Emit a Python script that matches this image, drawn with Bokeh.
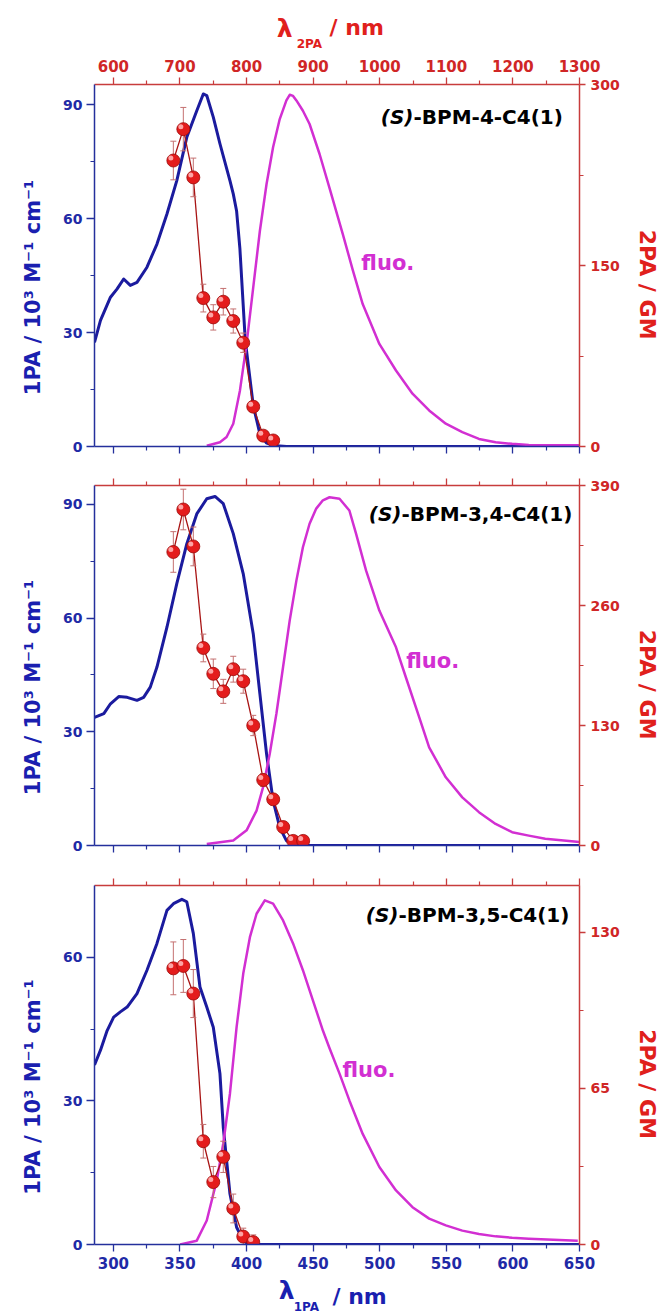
from bokeh.plotting import figure
from bokeh.models import Range1d, LinearAxis, FixedTicker, Label, CustomJSTickFormatter
from bokeh.layouts import column
from bokeh.embed import file_html
from bokeh.resources import INLINE

# ---------------- data ----------------
# bottom axis: lambda_1PA (nm); top axis: lambda_2PA (nm)
lam1_range = (285.8, 650.0)
lam2_range = (571.6, 1300.0)
bottom_ticks = [300, 350, 400, 450, 500, 550, 600, 650]
bottom_minor = [325, 375, 425, 475, 525, 575, 625]
top_ticks = [600, 700, 800, 900, 1000, 1100, 1200, 1300]
top_minor = [650, 750, 850, 950, 1050, 1150, 1250]

# Panel 1: (S)-BPM-4-C4(1)
p1_abs_wl = [285.8, 290.3, 297.8, 302.8, 307.7, 312.7, 317.7, 325.2, 332.7, 340.2, 347.6, 355.1,
             362.6, 367.5, 370.1, 375.0, 380.0, 387.5, 390.0, 392.5, 395.0, 397.0, 399.0, 405.0,
             410.0, 415.0, 422.4, 430.0, 650.0]
p1_abs = [27.4, 33.2, 39.3, 41.5, 44.1, 42.4, 43.2, 47.2, 53.3, 61.2, 70.0, 81.4,
          88.4, 92.8, 92.4, 86.7, 79.7, 70.0, 66.5, 62.0, 52.0, 40.0, 28.0, 10.8,
          3.3, 0.9, 0.2, 0.0, 0.0]
p1_fl_wl = [370.1, 380.0, 385.0, 390.0, 395.0, 400.0, 405.0, 410.0, 415.0, 419.9, 424.9, 429.9,
            432.4, 434.9, 437.4, 442.3, 447.3, 454.8, 462.3, 472.2, 479.7, 487.2, 499.7, 512.2,
            524.6, 537.1, 549.6, 562.0, 574.5, 587.0, 599.4, 611.9, 630.0, 650.0]
p1_fl = [0.2, 1.1, 2.5, 6.0, 14.7, 27.0, 41.9, 56.8, 69.1, 78.8, 86.2, 91.1,
         92.6, 92.3, 91.1, 88.4, 84.9, 77.0, 68.0, 56.0, 46.5, 37.5, 27.0, 20.0,
         13.9, 9.5, 6.0, 3.8, 2.0, 1.1, 0.7, 0.4, 0.3, 0.3]
p1_tpa_wl = [690, 705, 720, 735, 750, 765, 780, 795, 810, 825, 840]
p1_tpa_gm = [237, 263, 223, 123, 107, 120, 104, 86, 33, 9, 5]
p1_tpa_err = [16, 18, 16, 11.5, 10.5, 11, 10, 8, 4, 3, 2]

# Panel 2: (S)-BPM-3,4-C4(1)
p2_abs_wl = [285.8, 292.8, 297.8, 304.0, 310.3, 317.7, 322.7, 327.7, 332.7, 340.2, 347.6, 355.1,
             362.6, 370.1, 376.3, 382.5, 390.0, 397.5, 405.0, 410.0, 415.0, 419.9, 424.9, 429.9,
             434.9, 440.0, 650.0]
p2_abs = [33.8, 34.8, 37.4, 39.3, 39.1, 38.3, 39.1, 41.8, 47.1, 57.6, 69.1, 79.6,
          87.5, 91.5, 92.1, 90.2, 82.3, 71.7, 55.9, 40.0, 24.2, 11.9, 4.8, 1.3,
          0.3, 0.0, 0.0]
p2_fl_wl = [370.1, 390.0, 400.0, 407.5, 412.4, 417.4, 422.4, 427.4, 432.4, 437.4, 442.3, 447.3,
            452.3, 457.3, 462.3, 469.8, 477.2, 482.2, 489.7, 499.7, 512.2, 519.6, 529.6, 537.1,
            549.6, 562.0, 574.5, 587.0, 599.4, 611.9, 624.3, 650.0]
p2_fl = [0.4, 1.3, 4.0, 9.2, 15.4, 24.2, 34.8, 47.1, 59.4, 69.9, 78.7, 84.9,
         88.9, 91.1, 91.9, 91.5, 88.4, 82.3, 72.6, 62.0, 52.3, 44.4, 33.9, 25.9,
         18.0, 12.7, 8.8, 5.7, 3.5, 2.6, 1.8, 0.9]
p2_tpa_wl = [690, 705, 720, 735, 750, 765, 780, 795, 810, 825, 840, 855, 870, 885]
p2_tpa_gm = [318, 364, 324, 214, 186, 167, 191, 178, 130, 71, 50, 20, 5, 5]
p2_tpa_err = [22, 22, 21, 15, 16, 13, 14, 13, 11, 7, 5, 3, 2, 2]

# Panel 3: (S)-BPM-3,5-C4(1)
p3_abs_wl = [285.8, 290.3, 295.3, 300.2, 305.2, 310.3, 317.7, 325.2, 332.7, 340.2, 345.1, 351.4,
             355.1, 360.0, 365.0, 370.1, 375.0, 380.0, 382.5, 387.5, 392.5, 397.5, 402.0, 650.0]
p3_abs = [37.5, 40.6, 44.7, 47.5, 48.6, 49.6, 52.4, 57.3, 62.9, 69.8, 71.2, 72.1,
          71.6, 65.0, 53.8, 49.6, 45.4, 35.7, 24.5, 10.6, 3.6, 0.8, 0.0, 0.0]
p3_fl_wl = [350.1, 362.6, 370.1, 377.6, 382.5, 387.5, 392.5, 397.5, 402.5, 407.5, 413.7, 419.9,
            427.4, 434.9, 442.3, 449.8, 457.3, 462.3, 469.8, 477.2, 487.2, 499.7, 512.2, 524.6,
            537.1, 549.6, 562.0, 574.5, 587.0, 599.4, 611.9, 648.7]
p3_fl = [0.0, 0.8, 5.0, 13.4, 21.1, 31.5, 45.4, 56.6, 64.2, 69.1, 71.9, 71.2,
         67.7, 62.9, 57.3, 51.0, 44.7, 41.0, 35.7, 30.1, 23.1, 16.2, 11.3, 7.8,
         5.4, 4.0, 2.9, 2.2, 1.7, 1.4, 1.2, 0.8]
p3_tpa_wl = [690, 705, 720, 735, 750, 765, 780, 795, 810]
p3_tpa_gm = [115, 116, 104.5, 43, 26, 36.5, 15, 3.3, 1]
p3_tpa_err = [11, 11, 10, 7, 6.5, 6.5, 6, 3.5, 3]

# ---------------- style ----------------
FONT = "DejaVu Sans"
BLUE_LINE = "#1b1b9e"
BLUE_AXIS = "#24309c"
BLUE_TEXT = "#1f2aa6"
BLUE_TITLE = "#1a1fb0"
MAGENTA = "#d22fd2"
RED_AXIS = "#c83c3c"
RED_TEXT = "#d02626"
RED_TITLE = "#e0201c"
FIG_W = 662
BORDER_L, BORDER_R = 94, 81
FRAME_W = FIG_W - BORDER_L - BORDER_R
NB = "\u00a0"


def style_axis(ax, color, text_color, size, ticks, minor, show_labels):
    ax.ticker = FixedTicker(ticks=ticks, minor_ticks=minor)
    ax.axis_line_color = color
    ax.axis_line_width = 1.5
    ax.major_tick_line_color = color
    ax.minor_tick_line_color = color
    ax.major_tick_line_width = 1.3
    ax.minor_tick_line_width = 1.2
    ax.major_tick_in = 0
    ax.minor_tick_in = 0
    ax.major_tick_out = 7
    ax.minor_tick_out = 4
    ax.major_label_text_font = FONT
    ax.major_label_text_font_style = "bold"
    ax.major_label_text_color = text_color
    if show_labels:
        ax.major_label_text_font_size = size
    else:
        ax.formatter = CustomJSTickFormatter(code="return ''")
        ax.major_label_text_font_size = "0px"
        ax.major_label_standoff = 0


def make_panel(height, b_top, b_bottom, ymax, gmax, yticks, yminor, gticks, gminor,
               top_labels, bottom_labels, abs_wl, abs_v, fl_wl, fl_v,
               t_wl, t_gm, t_err, name_rest, name_dx, name_dy, fluo_xy):
    p = figure(width=FIG_W, height=height, output_backend="svg", toolbar_location=None,
               x_range=Range1d(*lam1_range), y_range=Range1d(0, ymax),
               min_border_left=BORDER_L, min_border_right=BORDER_R,
               min_border_top=b_top, min_border_bottom=b_bottom)
    p.outline_line_color = None
    p.background_fill_color = "white"
    p.border_fill_color = "white"
    p.xgrid.visible = False
    p.ygrid.visible = False
    p.extra_x_ranges = {"top": Range1d(*lam2_range)}
    p.extra_y_ranges = {"right": Range1d(0, gmax)}

    bax = p.below[0]
    lax = p.left[0]
    style_axis(bax, BLUE_AXIS, BLUE_TEXT, "15px", bottom_ticks, bottom_minor, bottom_labels)
    bax.major_label_standoff = 5 if bottom_labels else 0
    style_axis(lax, BLUE_AXIS, BLUE_TEXT, "14px", yticks, yminor, True)
    lax.major_label_standoff = 4
    lax.major_tick_out = 8
    lax.axis_label = "1PA / 10³ M⁻¹ cm⁻¹" + NB * 6
    lax.axis_label_text_font = FONT
    lax.axis_label_text_font_style = "bold"
    lax.axis_label_text_font_size = "21px"
    lax.axis_label_text_color = BLUE_TITLE
    lax.axis_label_standoff = 15

    tax = LinearAxis(x_range_name="top")
    style_axis(tax, RED_AXIS, RED_TEXT, "15px", top_ticks, top_minor, top_labels)
    if top_labels:
        tax.major_label_standoff = 6
    p.add_layout(tax, "above")

    rax = LinearAxis(y_range_name="right")
    style_axis(rax, RED_AXIS, RED_TEXT, "14px", gticks, gminor, True)
    rax.major_tick_out = 6
    rax.major_label_standoff = 5
    rax.axis_label = NB * 5 + "2PA / GM"
    rax.axis_label_text_font = FONT
    rax.axis_label_text_font_style = "bold"
    rax.axis_label_text_font_size = "22px"
    rax.axis_label_text_color = RED_TITLE
    rax.axis_label_standoff = 12
    p.add_layout(rax, "right")

    # curves
    p.line(abs_wl, abs_v, line_color=BLUE_LINE, line_width=3, line_join="round")
    p.line(fl_wl, fl_v, line_color=MAGENTA, line_width=2.5, line_join="round")

    # 2PA data
    lo = [g - e for g, e in zip(t_gm, t_err)]
    hi = [g + e for g, e in zip(t_gm, t_err)]
    p.line(t_wl, t_gm, line_color="#a81414", line_width=1.3,
           x_range_name="top", y_range_name="right")
    p.segment(t_wl, lo, t_wl, hi, line_color="#c47070", line_width=1,
              x_range_name="top", y_range_name="right")
    p.scatter(t_wl + t_wl, lo + hi, marker="dash", size=6, line_color="#c47070",
              line_width=1, x_range_name="top", y_range_name="right")
    p.scatter(t_wl, t_gm, marker="circle", size=13, fill_color="#e41c1c",
              line_color="#9a0a0a", line_width=0.8,
              x_range_name="top", y_range_name="right")
    frame_h = height - b_top - b_bottom
    dx = -2.5 * (lam2_range[1] - lam2_range[0]) / FRAME_W
    dy = 2.5 * gmax / frame_h
    p.scatter([w + dx for w in t_wl], [g + dy for g in t_gm], marker="circle", size=5,
              fill_color="#ffb4b4", line_color=None, fill_alpha=0.9,
              x_range_name="top", y_range_name="right")

    # compound name
    x0 = lam1_range[0]
    p.add_layout(Label(x=x0, y=ymax, x_offset=name_dx, y_offset=-name_dy, text="(S)",
                       text_font=FONT, text_font_style="bold italic", text_font_size="20px",
                       text_color="black", text_align="right", text_baseline="alphabetic"))
    p.add_layout(Label(x=x0, y=ymax, x_offset=name_dx, y_offset=-name_dy, text=name_rest,
                       text_font=FONT, text_font_style="bold", text_font_size="20px",
                       text_color="black", text_align="left", text_baseline="alphabetic"))
    # fluo label
    p.add_layout(Label(x=fluo_xy[0], y=fluo_xy[1], text="fluo.", text_font=FONT,
                       text_font_style="bold", text_font_size="21px", text_color=MAGENTA,
                       text_baseline="alphabetic"))
    return p


def title_strip(height, color, parts):
    # frame aligned with the panels' frames (94..581 px), x data == page px
    t = figure(width=FIG_W, height=height, output_backend="svg", toolbar_location=None,
               x_range=Range1d(BORDER_L, FIG_W - BORDER_R), y_range=Range1d(0, height),
               x_axis_location=None, y_axis_location=None, title=None,
               min_border_left=BORDER_L, min_border_right=BORDER_R,
               min_border_top=0, min_border_bottom=0)
    t.outline_line_color = None
    t.background_fill_color = "white"
    t.border_fill_color = "white"
    t.xgrid.visible = False
    t.ygrid.visible = False
    for txt, x, base_from_top, size in parts:
        t.add_layout(Label(x=x, y=height - base_from_top, text=txt, text_font=FONT,
                           text_font_style="bold", text_font_size=size, text_color=color,
                           text_baseline="alphabetic", text_align="left"))
    return t


top_title = title_strip(52, RED_TITLE, [("λ", 277, 28, "25px"), ("2PA", 297, 43, "12px"),
                                        ("/ nm", 330, 27, "22px")])

p1 = make_panel(414, 32, 20, 95.3, 300, [0, 30, 60, 90], [15, 45, 75], [0, 150, 300], [75, 225],
                True, False, p1_abs_wl, p1_abs, p1_fl_wl, p1_fl,
                p1_tpa_wl, p1_tpa_gm, p1_tpa_err, "-BPM-4-C4(1)", 319, 32, (486.2, 48.2))
p2 = make_panel(400, 19, 21, 95.0, 390, [0, 30, 60, 90], [15, 45, 75], [0, 130, 260, 390],
                [65, 195, 325], False, False, p2_abs_wl, p2_abs, p2_fl_wl, p2_fl,
                p2_tpa_wl, p2_tpa_gm, p2_tpa_err, "-BPM-3,4-C4(1)", 307, 28, (519.9, 48.8))
p3 = make_panel(408, 19, 30, 75.0, 149.5, [0, 30, 60], [15, 45], [0, 65, 130], [32.5, 97.5],
                False, True, p3_abs_wl, p3_abs, p3_fl_wl, p3_fl,
                p3_tpa_wl, p3_tpa_gm, p3_tpa_err, "-BPM-3,5-C4(1)", 304, 29, (472.0, 36.4))

bottom_title = title_strip(38, BLUE_TITLE, [("λ", 279, 16, "25px"), ("1PA", 294, 32, "12px"),
                                            ("/ nm", 333, 22, "22px")])

layout = column(top_title, p1, p2, p3, bottom_title, spacing=0)
open("out.html", "w").write(file_html(layout, INLINE))
